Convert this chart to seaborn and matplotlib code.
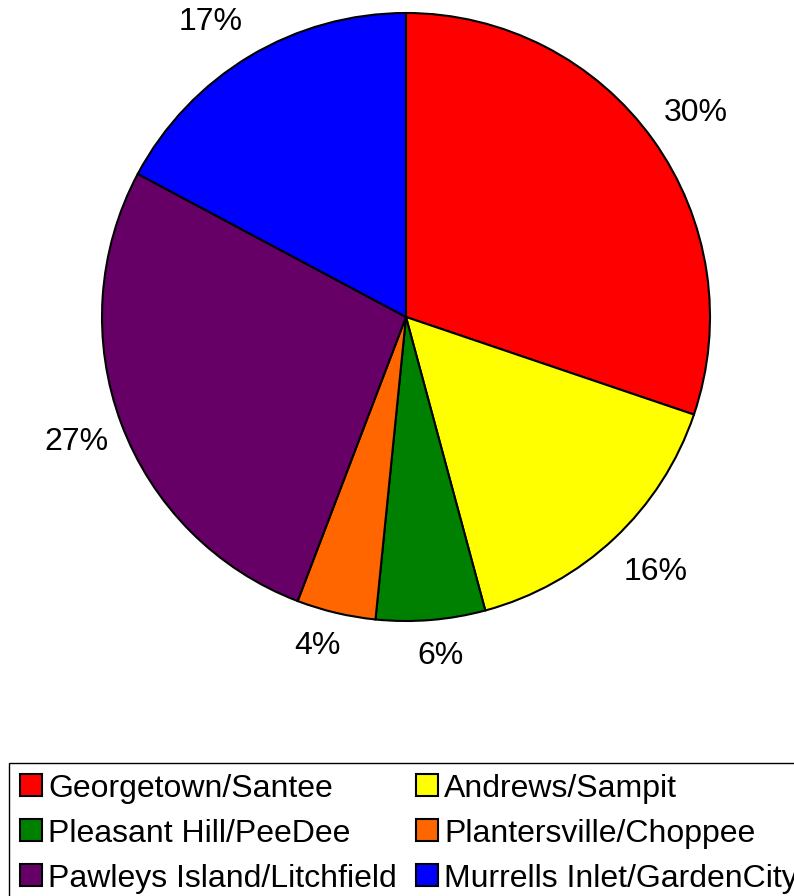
import numpy as np
import matplotlib
matplotlib.use("Agg")
import matplotlib.pyplot as plt
import seaborn as sns

# shares of each area (percent)
areas = ["Georgetown/Santee", "Andrews/Sampit", "Pleasant Hill/PeeDee",
         "Plantersville/Choppee", "Pawleys Island/Litchfield",
         "Murrells Inlet/GardenCity"]
shares = [30.2, 15.6, 5.8, 4.2, 27.0, 17.2]
area_colors = ["#FF0000", "#FFFF00", "#008000", "#FF6600", "#660066", "#0000FF"]

sns.set_theme(style="white")
plt.rcParams["font.family"] = ["Liberation Sans", "DejaVu Sans"]
plt.rcParams["text.color"] = "black"

W, H = 794, 896
fig = plt.figure(figsize=(W / 100, H / 100), dpi=100)
fig.patch.set_facecolor("white")

# pie centre (406, 317) px, radius 304 px
cx, cy, r = 406, 317, 304
ax = fig.add_axes([(cx - r) / W, (H - cy - r) / H, 2 * r / W, 2 * r / H])

pal = sns.color_palette(area_colors)
wedges, texts, autotexts = ax.pie(
    shares, colors=pal, startangle=90, counterclock=False,
    autopct="%1.0f%%", pctdistance=1.16, radius=1,
    wedgeprops=dict(edgecolor="black", linewidth=1.5),
    textprops=dict(fontsize=23, color="black"))

# nudge the labels the way the original places them
label_dist = [1.165, 1.175, 1.12, 1.12, 1.16, 1.165]
label_turn = [0.5, -1.2, -1.1, 1.7, -0.2, -2.6]   # degrees, clockwise
for w, t, d, s in zip(wedges, autotexts, label_dist, label_turn):
    ang = np.deg2rad((w.theta1 + w.theta2) / 2 - s)
    t.set_position((d * np.cos(ang), d * np.sin(ang)))

ax.set_xlim(-1, 1)
ax.set_ylim(-1, 1)
ax.set_aspect("equal")
ax.axis("off")

# legend is filled row by row in the original (two columns)
order = [0, 2, 4, 1, 3, 5]
leg = fig.legend([wedges[i] for i in order], [areas[i] for i in order],
                 ncol=2, loc="upper left",
                 bbox_to_anchor=(9 / W, 1 - 763 / H),
                 fontsize=23, frameon=True, fancybox=False,
                 edgecolor="black", framealpha=1,
                 handlelength=0.69, handleheight=0.69, handletextpad=0.2,
                 borderpad=0.33, borderaxespad=0, labelspacing=0.47,
                 columnspacing=0.6)
leg.get_frame().set_linewidth(1.0)
for h in leg.legend_handles:
    h.set_edgecolor("black")
    h.set_linewidth(1.5)
for t in leg.get_texts():
    t.set_color("black")

fig.savefig("out.png", dpi=100, facecolor="white")
